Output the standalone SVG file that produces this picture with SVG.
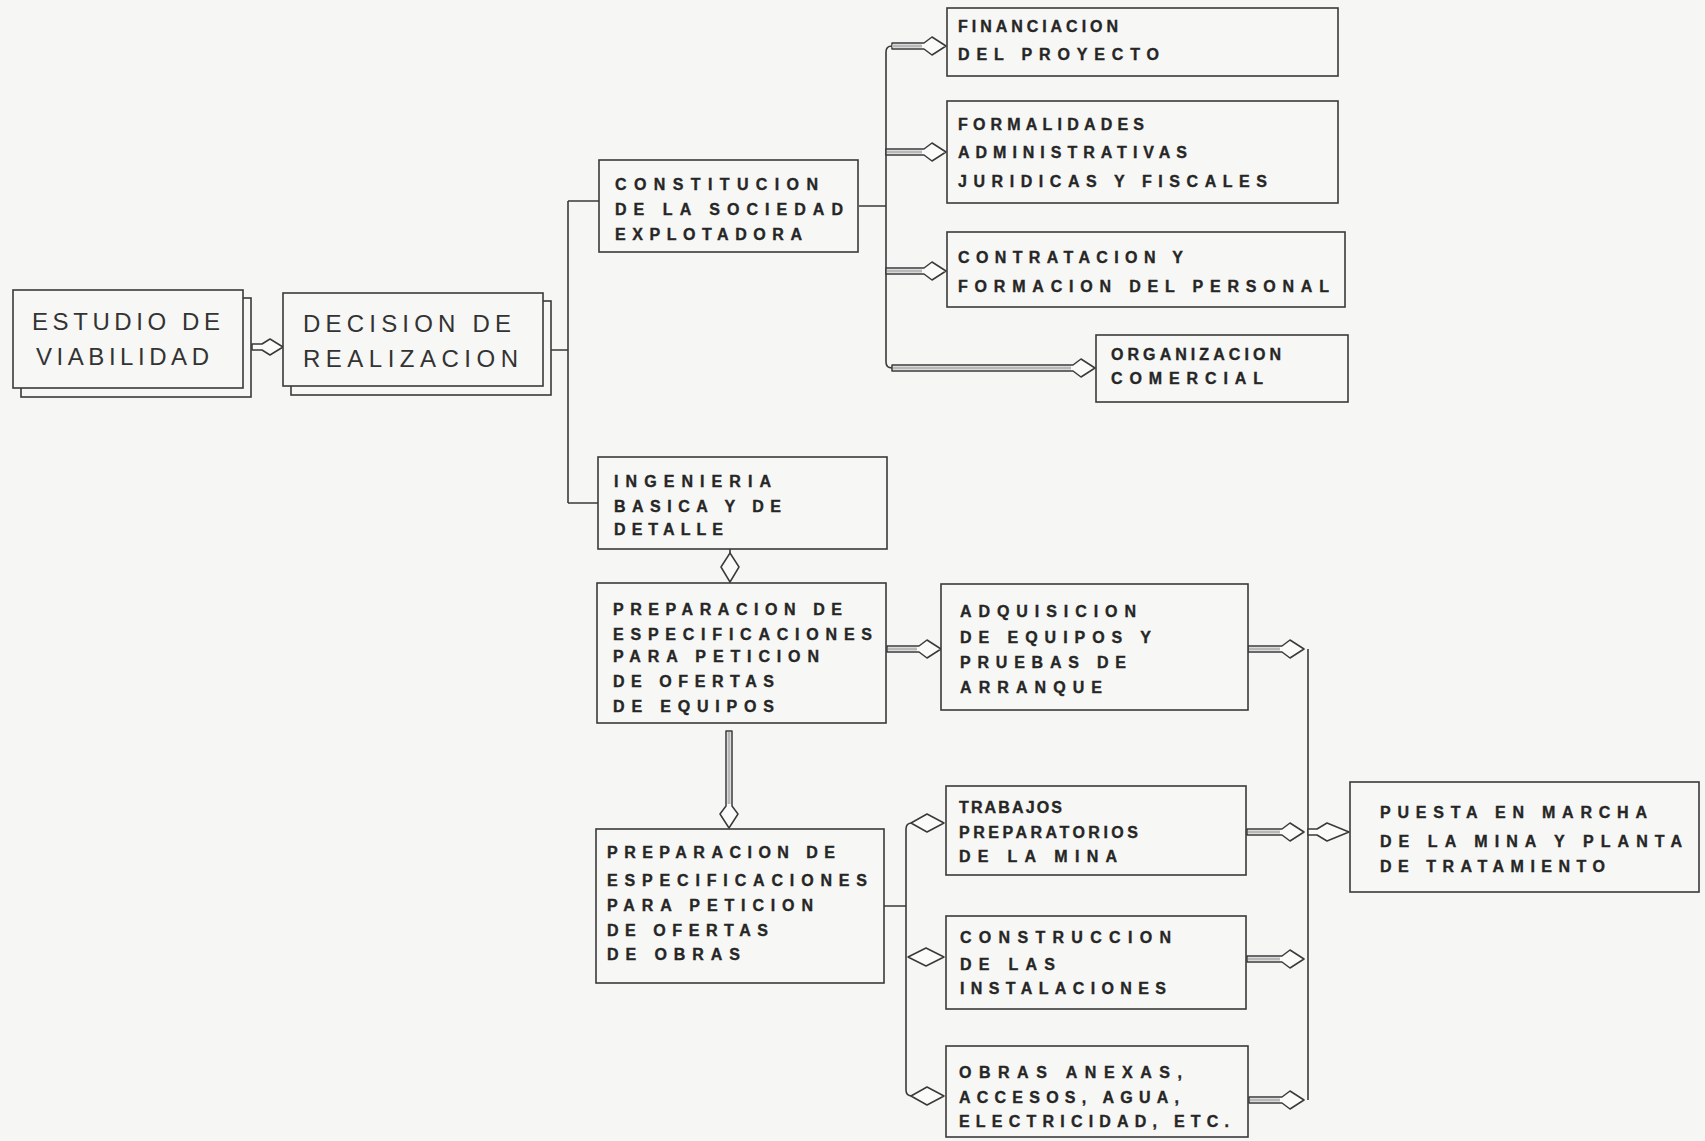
<svg xmlns="http://www.w3.org/2000/svg" width="1705" height="1141" viewBox="0 0 1705 1141">
<style>
.bx{fill:#f7f7f5;stroke:#3a3a3a;stroke-width:1.6}
.sh{fill:#f7f7f5;stroke:#3a3a3a;stroke-width:1.6}
.ln{fill:none;stroke:#3a3a3a;stroke-width:1.6}
.ar{fill:#fbfbfa;stroke:#3a3a3a;stroke-width:1.5;stroke-linejoin:round}
.sf{fill:none;stroke:#b8b8b8;stroke-width:3}
.t{font-family:"Liberation Sans",Arial,sans-serif;font-size:16px;font-weight:bold;fill:#262626;stroke:#262626;stroke-width:0.35}
.tb{font-family:"Liberation Sans",Arial,sans-serif;font-size:24px;fill:#333}
</style>
<rect width="1705" height="1141" fill="#f6f6f4"/>

<g id="connectors">
  <path class="ar" d="M252 344 H262 L270 339 L283 347 L270 355 L262 350 H252 Z"/>
  <path class="ln" d="M551 350 H568 M568 201 V503 M568 201 H599 M568 503 H598"/>
  <path class="ln" d="M859 206 H886 M892 46 Q886 46 886 52 V362 Q886 368 892 368"/>
  <path class="ar" d="M892 43 H924 L932 37 L946 46 L932 55 L924 49 H892 Z"/><path class="sf" d="M892 46 H922"/>
  <path class="ar" d="M886 149 H924 L932 143 L946 152 L932 161 L924 155 H886 Z"/><path class="sf" d="M887 152 H922"/>
  <path class="ar" d="M886 268 H924 L932 262 L946 271 L932 280 L924 274 H886 Z"/><path class="sf" d="M887 271 H922"/>
  <path class="ar" d="M892 365 H1073 L1081 359 L1095 368 L1081 377 L1073 371 H892 Z"/><path class="sf" d="M893 368 H1071"/>
  <path class="ln" d="M730 549 V553"/>
  <path class="ar" d="M730 553 L739 567 L730 582 L721 567 Z"/>
  <path class="ar" d="M887 646 H919 L927 640 L941 649 L927 658 L919 652 H887 Z"/><path class="sf" d="M888 649 H917"/>
  <path class="ar" d="M726 731 V806 L720 814 L729 828 L738 814 L732 806 V731 Z"/><path class="sf" d="M729 732 V804"/>
  <path class="ln" d="M884 906 H906 M912 823 Q906 823 906 829 V1090 Q906 1096 912 1096"/>
  <path class="ar" d="M911 823 L927 814 L944 823 L927 832 Z"/>
  <path class="ar" d="M908 957 L926 948 L944 957 L926 966 Z"/>
  <path class="ar" d="M911 1096 L927 1087 L944 1096 L927 1105 Z"/>
  <path class="ln" d="M1308 649 V1100"/>
  <path class="ar" d="M1248 646 H1282 L1290 640 L1304 649 L1290 658 L1282 652 H1248 Z"/><path class="sf" d="M1249 649 H1280"/>
  <path class="ar" d="M1247 829 H1282 L1290 823 L1304 832 L1290 841 L1282 835 H1247 Z"/><path class="sf" d="M1248 832 H1280"/>
  <path class="ar" d="M1247 956 H1282 L1290 950 L1304 959 L1290 968 L1282 962 H1247 Z"/><path class="sf" d="M1248 959 H1280"/>
  <path class="ar" d="M1249 1097 H1282 L1290 1091 L1304 1100 L1290 1109 L1282 1103 H1249 Z"/><path class="sf" d="M1250 1100 H1280"/>
  <path class="ar" d="M1308 829 H1317 L1327 823 L1349 832 L1327 841 L1317 835 H1308 Z"/>
</g>

<g id="estudio">
  <rect class="sh" x="21" y="298" width="230" height="99"/>
  <rect class="bx" x="13" y="290" width="230" height="98"/>
  <text class="tb" x="32" y="330" textLength="188" lengthAdjust="spacing">ESTUDIO DE</text>
  <text class="tb" x="36" y="365" textLength="173" lengthAdjust="spacing">VIABILIDAD</text>
</g>

<g id="decision">
  <rect class="sh" x="291" y="301" width="260" height="94"/>
  <rect class="bx" x="283" y="293" width="260" height="93"/>
  <text class="tb" x="303" y="332" textLength="208" lengthAdjust="spacing">DECISION DE</text>
  <text class="tb" x="303" y="367" textLength="215" lengthAdjust="spacing">REALIZACION</text>
</g>

<g id="constitucion">
  <rect class="bx" x="599" y="160" width="259" height="92"/>
  <text class="t" x="615" y="190" textLength="203" lengthAdjust="spacing">CONSTITUCION</text>
  <text class="t" x="615" y="215" textLength="228" lengthAdjust="spacing">DE LA SOCIEDAD</text>
  <text class="t" x="615" y="240" textLength="187" lengthAdjust="spacing">EXPLOTADORA</text>
</g>

<g id="financiacion">
  <rect class="bx" x="947" y="8" width="391" height="68"/>
  <text class="t" x="958" y="32" textLength="160" lengthAdjust="spacing">FINANCIACION</text>
  <text class="t" x="958" y="60" textLength="201" lengthAdjust="spacing">DEL PROYECTO</text>
</g>

<g id="formalidades">
  <rect class="bx" x="947" y="101" width="391" height="102"/>
  <text class="t" x="958" y="130" textLength="186" lengthAdjust="spacing">FORMALIDADES</text>
  <text class="t" x="958" y="158" textLength="229" lengthAdjust="spacing">ADMINISTRATIVAS</text>
  <text class="t" x="958" y="187" textLength="309" lengthAdjust="spacing">JURIDICAS Y FISCALES</text>
</g>

<g id="contratacion">
  <rect class="bx" x="947" y="232" width="398" height="75"/>
  <text class="t" x="958" y="263" textLength="225" lengthAdjust="spacing">CONTRATACION Y</text>
  <text class="t" x="958" y="292" textLength="371" lengthAdjust="spacing">FORMACION DEL PERSONAL</text>
</g>

<g id="organizacion">
  <rect class="bx" x="1096" y="335" width="252" height="67"/>
  <text class="t" x="1111" y="360" textLength="170" lengthAdjust="spacing">ORGANIZACION</text>
  <text class="t" x="1111" y="384" textLength="152" lengthAdjust="spacing">COMERCIAL</text>
</g>

<g id="ingenieria">
  <rect class="bx" x="598" y="457" width="289" height="92"/>
  <text class="t" x="614" y="487" textLength="157" lengthAdjust="spacing">INGENIERIA</text>
  <text class="t" x="614" y="512" textLength="167" lengthAdjust="spacing">BASICA Y DE</text>
  <text class="t" x="614" y="535" textLength="109" lengthAdjust="spacing">DETALLE</text>
</g>

<g id="prep-equipos">
  <rect class="bx" x="597" y="583" width="289" height="140"/>
  <text class="t" x="613" y="615" textLength="229" lengthAdjust="spacing">PREPARACION DE</text>
  <text class="t" x="613" y="640" textLength="259" lengthAdjust="spacing">ESPECIFICACIONES</text>
  <text class="t" x="613" y="662" textLength="206" lengthAdjust="spacing">PARA PETICION</text>
  <text class="t" x="613" y="687" textLength="161" lengthAdjust="spacing">DE OFERTAS</text>
  <text class="t" x="613" y="712" textLength="161" lengthAdjust="spacing">DE EQUIPOS</text>
</g>

<g id="adquisicion">
  <rect class="bx" x="941" y="584" width="307" height="126"/>
  <text class="t" x="960" y="617" textLength="176" lengthAdjust="spacing">ADQUISICION</text>
  <text class="t" x="960" y="643" textLength="191" lengthAdjust="spacing">DE EQUIPOS Y</text>
  <text class="t" x="960" y="668" textLength="166" lengthAdjust="spacing">PRUEBAS DE</text>
  <text class="t" x="960" y="693" textLength="142" lengthAdjust="spacing">ARRANQUE</text>
</g>

<g id="prep-obras">
  <rect class="bx" x="596" y="829" width="288" height="154"/>
  <text class="t" x="607" y="858" textLength="228" lengthAdjust="spacing">PREPARACION DE</text>
  <text class="t" x="607" y="886" textLength="260" lengthAdjust="spacing">ESPECIFICACIONES</text>
  <text class="t" x="607" y="911" textLength="206" lengthAdjust="spacing">PARA PETICION</text>
  <text class="t" x="607" y="936" textLength="161" lengthAdjust="spacing">DE OFERTAS</text>
  <text class="t" x="607" y="960" textLength="133" lengthAdjust="spacing">DE OBRAS</text>
</g>

<g id="trabajos">
  <rect class="bx" x="946" y="786" width="300" height="89"/>
  <text class="t" x="959" y="813" textLength="103" lengthAdjust="spacing">TRABAJOS</text>
  <text class="t" x="959" y="838" textLength="179" lengthAdjust="spacing">PREPARATORIOS</text>
  <text class="t" x="959" y="862" textLength="158" lengthAdjust="spacing">DE LA MINA</text>
</g>

<g id="construccion">
  <rect class="bx" x="946" y="916" width="300" height="93"/>
  <text class="t" x="960" y="943" textLength="211" lengthAdjust="spacing">CONSTRUCCION</text>
  <text class="t" x="960" y="970" textLength="95" lengthAdjust="spacing">DE LAS</text>
  <text class="t" x="960" y="994" textLength="206" lengthAdjust="spacing">INSTALACIONES</text>
</g>

<g id="obras-anexas">
  <rect class="bx" x="946" y="1046" width="302" height="91"/>
  <text class="t" x="959" y="1078" textLength="223" lengthAdjust="spacing">OBRAS ANEXAS,</text>
  <text class="t" x="959" y="1103" textLength="220" lengthAdjust="spacing">ACCESOS, AGUA,</text>
  <text class="t" x="959" y="1127" textLength="270" lengthAdjust="spacing">ELECTRICIDAD, ETC.</text>
</g>

<g id="puesta">
  <rect class="bx" x="1350" y="782" width="349" height="110"/>
  <text class="t" x="1380" y="818" textLength="267" lengthAdjust="spacing">PUESTA EN MARCHA</text>
  <text class="t" x="1380" y="847" textLength="302" lengthAdjust="spacing">DE LA MINA Y PLANTA</text>
  <text class="t" x="1380" y="872" textLength="225" lengthAdjust="spacing">DE TRATAMIENTO</text>
</g>
</svg>
